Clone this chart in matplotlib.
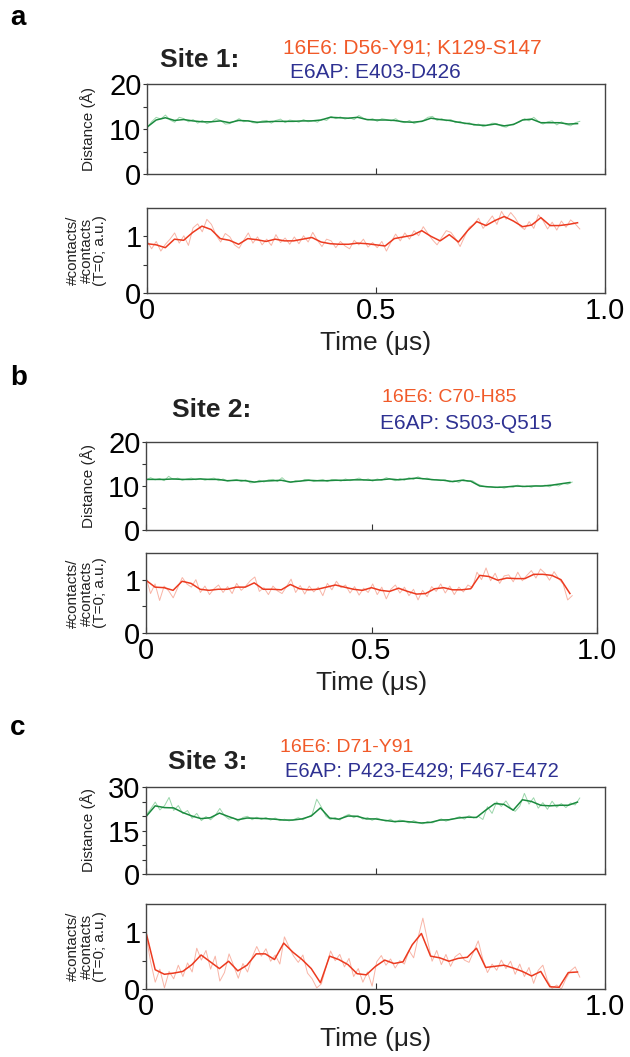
import matplotlib
matplotlib.use("Agg")
import matplotlib.pyplot as plt
import numpy as np

plt.rcParams['font.family'] = ['Liberation Sans', 'DejaVu Sans']

# smoothed traces, sampled every 0.02 us from 0 to 0.94 us
dist1 = [10.4, 12.0, 12.5, 11.9, 12.1, 11.8, 11.6, 11.6, 11.8, 11.4, 11.9, 11.8, 11.5, 11.6, 11.7, 11.7,
         11.7, 11.8, 11.8, 12.0, 12.6, 12.5, 12.4, 12.6, 12.1, 12.0, 12.0, 11.9, 11.6, 11.5, 11.7, 12.4,
         12.1, 11.9, 11.5, 11.2, 10.9, 10.8, 11.1, 10.7, 11.0, 12.0, 12.2, 11.4, 11.4, 11.4, 11.1, 11.2]
cont1 = [0.87, 0.85, 0.80, 0.95, 0.93, 1.07, 1.18, 1.12, 0.96, 0.93, 0.86, 0.96, 0.94, 0.91, 0.95, 0.92,
         0.92, 0.95, 0.98, 0.90, 0.87, 0.86, 0.86, 0.88, 0.87, 0.85, 0.83, 0.96, 0.99, 1.02, 1.10, 1.00,
         0.92, 1.03, 0.90, 1.10, 1.26, 1.19, 1.28, 1.35, 1.27, 1.17, 1.20, 1.33, 1.19, 1.19, 1.21, 1.24]
dist2 = [11.5, 11.5, 11.5, 11.6, 11.5, 11.5, 11.6, 11.5, 11.5, 11.2, 11.3, 11.2, 10.9, 11.1, 11.2, 11.3,
         10.9, 11.1, 11.3, 11.2, 11.2, 11.3, 11.3, 11.4, 11.4, 11.3, 11.4, 11.6, 11.4, 11.6, 11.8, 11.6,
         11.4, 11.3, 11.0, 11.3, 11.1, 10.0, 9.8, 9.7, 9.8, 10.0, 9.9, 10.0, 10.0, 10.2, 10.5, 10.8]
cont2 = [0.99, 0.86, 0.85, 0.80, 0.97, 0.93, 0.82, 0.80, 0.82, 0.82, 0.86, 0.86, 0.94, 0.82, 0.82, 0.81,
         0.91, 0.83, 0.81, 0.82, 0.86, 0.90, 0.86, 0.82, 0.80, 0.85, 0.80, 0.78, 0.84, 0.78, 0.73, 0.74,
         0.83, 0.85, 0.81, 0.81, 0.83, 1.08, 1.06, 0.99, 1.03, 1.02, 1.02, 1.10, 1.10, 1.08, 1.00, 0.74]
dist3 = [19.8, 23.5, 22.9, 22.8, 21.2, 20.0, 19.1, 19.4, 21.0, 19.8, 18.7, 19.3, 19.2, 19.1, 18.9, 18.6,
         18.6, 19.0, 20.0, 22.8, 19.3, 18.9, 20.0, 19.9, 19.0, 19.0, 18.5, 18.1, 18.2, 17.9, 17.6, 17.8,
         18.6, 18.7, 19.3, 19.6, 19.5, 22.0, 24.3, 24.0, 22.0, 25.6, 25.0, 23.7, 23.5, 23.7, 23.7, 24.8]
cont3 = [1.00, 0.34, 0.26, 0.28, 0.31, 0.43, 0.60, 0.48, 0.36, 0.49, 0.32, 0.42, 0.62, 0.62, 0.52, 0.81,
         0.65, 0.52, 0.36, 0.11, 0.58, 0.52, 0.43, 0.27, 0.25, 0.40, 0.51, 0.45, 0.48, 0.78, 0.98, 0.58,
         0.55, 0.49, 0.54, 0.56, 0.72, 0.38, 0.40, 0.42, 0.37, 0.31, 0.23, 0.31, 0.04, 0.03, 0.29, 0.30]

# raw traces, sampled every 0.01 us from 0 to 0.94 us
dist1_raw = [10.2, 11.6, 12.6, 12.2, 13.1, 12.0, 11.5, 12.6, 12.3, 11.6,
             12.1, 11.3, 11.9, 11.2, 11.6, 12.3, 11.9, 11.1, 11.2, 11.7,
             12.3, 11.6, 11.9, 11.4, 11.3, 11.8, 11.9, 11.3, 11.9, 12.2,
             11.4, 12.0, 11.8, 11.5, 12.1, 11.6, 11.9, 11.5, 12.2, 11.9,
             12.8, 12.3, 12.7, 12.2, 12.5, 12.1, 13.0, 12.4, 12.0, 12.3,
             11.7, 12.3, 12.1, 11.8, 12.3, 11.6, 11.4, 11.9, 11.2, 11.6,
             11.9, 12.6, 12.8, 11.9, 12.3, 11.8, 12.1, 11.4, 11.7, 11.1,
             11.4, 10.8, 11.1, 10.5, 10.9, 11.3, 11.2, 10.6, 10.4, 11.0,
             11.2, 11.6, 12.3, 11.8, 12.6, 11.7, 11.1, 11.6, 11.8, 10.9,
             11.6, 11.0, 10.7, 11.4, 11.7]
cont1_raw = [0.92, 0.78, 0.91, 0.74, 0.86, 0.95, 1.06, 0.88, 1.01, 0.84,
             1.15, 1.22, 1.08, 1.30, 1.21, 1.02, 0.90, 1.05, 0.99, 0.85,
             0.79, 0.93, 1.06, 0.88, 0.99, 0.85, 0.95, 0.84, 1.03, 0.89,
             0.97, 0.86, 0.99, 0.87, 1.01, 0.90, 1.07, 0.93, 0.82, 0.95,
             0.92, 0.80, 0.91, 0.83, 0.78, 0.93, 0.85, 0.95, 0.81, 0.89,
             0.80, 0.91, 0.74, 0.90, 1.04, 0.92, 1.06, 0.95, 1.10, 1.01,
             1.17, 1.05, 0.94, 0.85, 0.98, 1.10, 1.07, 0.96, 0.82, 1.00,
             1.16, 1.21, 1.32, 1.14, 1.25, 1.36, 1.21, 1.44, 1.30, 1.42,
             1.32, 1.18, 1.12, 1.26, 1.14, 1.38, 1.28, 1.13, 1.25, 1.11,
             1.27, 1.16, 1.29, 1.22, 1.13]
dist2_raw = [11.3, 11.9, 11.4, 11.7, 11.2, 12.2, 11.5, 11.8, 11.3, 11.6,
             11.8, 11.4, 11.7, 11.3, 11.6, 11.8, 11.2, 11.6, 11.1, 11.3,
             11.5, 11.0, 11.4, 10.7, 10.8, 11.3, 10.9, 11.4, 11.5, 11.0,
             11.9, 11.0, 10.8, 11.2, 11.0, 11.5, 11.4, 11.0, 11.3, 11.5,
             11.0, 11.5, 11.4, 11.1, 11.6, 11.2, 11.5, 11.8, 11.3, 11.6,
             11.1, 11.6, 11.3, 11.9, 11.5, 11.2, 11.7, 11.3, 11.9, 11.5,
             12.1, 11.6, 11.8, 11.4, 11.5, 11.2, 11.4, 10.9, 11.2, 10.8,
             11.5, 11.0, 11.2, 10.5, 10.1, 9.8, 9.9, 9.6, 9.8, 9.5,
             9.9, 9.7, 10.2, 9.8, 10.0, 9.7, 10.1, 9.9, 10.2, 9.8,
             10.3, 10.0, 10.6, 10.4, 10.9]
cont2_raw = [1.05, 0.74, 0.92, 0.61, 0.88, 0.79, 0.66, 0.85, 1.04, 0.92,
             0.86, 1.00, 0.76, 0.88, 0.72, 0.83, 0.90, 0.76, 0.87, 0.74,
             0.93, 0.80, 0.88, 0.98, 1.05, 0.78, 0.85, 0.72, 0.88, 0.79,
             0.74, 0.87, 1.01, 0.76, 0.89, 0.73, 0.88, 0.77, 0.86, 0.70,
             0.93, 0.81, 0.97, 0.85, 0.90, 0.75, 0.87, 0.71, 0.84, 0.76,
             0.92, 0.72, 0.86, 0.64, 0.82, 0.90, 0.75, 0.86, 0.70, 0.82,
             0.62, 0.80, 0.68, 0.87, 0.78, 0.92, 0.75, 0.88, 0.72, 0.86,
             0.77, 0.90, 0.85, 1.14, 1.00, 1.22, 0.98, 1.12, 0.93, 1.07,
             1.09, 0.96, 1.14, 0.98, 1.08, 1.17, 1.03, 1.20, 1.12, 0.99,
             1.15, 1.02, 0.92, 0.62, 0.70]
dist3_raw = [20.3, 22.4, 24.8, 22.1, 23.5, 26.4, 21.9, 23.6, 20.8, 21.9,
             19.2, 20.9, 18.4, 19.8, 18.7, 20.2, 22.6, 20.1, 18.9, 19.3,
             18.2, 19.5, 19.9, 18.7, 19.6, 18.8, 19.5, 18.6, 19.3, 18.4,
             18.9, 18.3, 18.8, 19.4, 18.7, 19.6, 20.5, 25.8, 23.1, 19.9,
             18.8, 19.5, 18.6, 19.9, 20.6, 19.4, 20.1, 18.9, 19.5, 18.5,
             19.3, 18.7, 18.2, 18.9, 17.8, 18.6, 18.3, 17.6, 18.4, 17.7,
             17.3, 18.1, 17.6, 18.3, 19.0, 18.2, 18.9, 19.2, 19.8, 18.9,
             20.1, 19.3, 19.9, 18.8, 23.2, 20.9, 24.9, 23.3, 25.2, 22.8,
             21.6, 23.4, 27.8, 24.1, 26.3, 22.7, 24.6, 22.3, 25.1, 23.0,
             24.3, 22.9, 24.5, 23.8, 26.2]
cont3_raw = [0.95, 0.48, 0.12, 0.35, 0.02, 0.31, 0.18, 0.42, 0.22, 0.46,
             0.30, 0.72, 0.51, 0.68, 0.35, 0.58, 0.14, 0.29, 0.62, 0.41,
             0.19, 0.45, 0.30, 0.56, 0.75, 0.58, 0.71, 0.49, 0.60, 0.44,
             0.92, 0.74, 0.58, 0.47, 0.60, 0.28, 0.18, 0.02, 0.09, 0.38,
             0.67, 0.50, 0.61, 0.39, 0.54, 0.22, 0.36, 0.12, 0.30, 0.05,
             0.48, 0.59, 0.42, 0.53, 0.37, 0.50, 0.44, 0.68, 0.55, 0.92,
             1.25, 0.86, 0.49, 0.68, 0.43, 0.61, 0.40, 0.57, 0.63, 0.51,
             0.47, 0.66, 0.85, 0.52, 0.29, 0.44, 0.33, 0.51, 0.36, 0.49,
             0.26, 0.44, 0.22, 0.38, 0.10, 0.33, 0.42, 0.15, 0.01, 0.07,
             0.00, 0.18, 0.32, 0.39, 0.21]

letters = ['a', 'b', 'c']
sites = ['Site 1:', 'Site 2:', 'Site 3:']
e6_labels = ['16E6: D56-Y91; K129-S147', '16E6: C70-H85', '16E6: D71-Y91']
e6ap_labels = ['E6AP: E403-D426', 'E6AP: S503-Q515', 'E6AP: P423-E429; F467-E472']

GREEN, GREEN_L = '#1a8a3e', '#9ad6aa'
RED, RED_L = '#ec3a1f', '#f8b4a6'
ORANGE, NAVY = '#f15a29', '#2e3192'

W, H = 630, 1057
fig = plt.figure(figsize=(W / 100, H / 100), dpi=100)


def box(l, t, r, b):
    return [l / W, 1 - b / H, (r - l) / W, (b - t) / H]


def style(ax, ymax, yticks, yminor):
    ax.set_xlim(0, 1.0)
    ax.set_ylim(0, ymax)
    ax.set_yticks(yticks)
    ax.set_yticks(yminor, minor=True)
    ax.set_xticks([0, 0.5, 1.0])
    ax.tick_params(axis='y', which='both', direction='out', length=3, width=0.8,
                   labelsize=21, pad=1, colors='#333333', labelcolor='black')
    ax.tick_params(axis='x', direction='in', length=4, width=0.8, labelsize=21,
                   pad=3, colors='#333333', labelcolor='black')
    for s in ax.spines.values():
        s.set_color('#444444')
        s.set_linewidth(1.0)


# pixel boxes: (left, top, right, bottom) for distance and contact axes
layout = [
    ((147, 84, 605, 174), (147, 208, 605, 293), 18, 48, 60),
    ((146, 442, 597, 530), (146, 553, 597, 633), 378, 398, 410),
    ((146, 787, 605, 874), (146, 904, 605, 989), 728, 748, 762),
]
dists = [dist1, dist2, dist3]
conts = [cont1, cont2, cont3]
dists_raw = [dist1_raw, dist2_raw, dist3_raw]
conts_raw = [cont1_raw, cont2_raw, cont3_raw]
dmax = [20, 20, 30]
e6_x = [283, 382, 280]
e6ap_x = [290, 380, 285]
site_x = [200, 212, 208]
e6ap_dy = [24, 26, 23]
e6_size = [15, 14, 14]
e6ap_size = [15, 15, 14.5]

for i in range(3):
    dbox, cbox, ly, ty, sy = layout[i]
    width = dbox[2] - dbox[0]

    axd = fig.add_axes(box(*dbox))
    t_raw = np.linspace(0, 0.945, len(dists_raw[i]))
    t_s = np.linspace(0, 0.94, len(dists[i]))
    axd.plot(t_raw, dists_raw[i], color=GREEN_L, lw=0.7)
    axd.plot(t_s, dists[i], color=GREEN, lw=1.1)
    if dmax[i] == 20:
        style(axd, 20, [0, 10, 20], [5, 15])
    else:
        style(axd, 30, [0, 15, 30], [5, 10, 20, 25])
    axd.set_xticklabels([])
    axd.set_ylabel('Distance (Å)', fontsize=11, color='#222222')
    axd.yaxis.set_label_coords((96 - dbox[0]) / width, 0.5)

    axc = fig.add_axes(box(*cbox))
    t_raw = np.linspace(0, 0.945, len(conts_raw[i]))
    t_s = np.linspace(0, 0.94, len(conts[i]))
    axc.plot(t_raw, conts_raw[i], color=RED_L, lw=0.7)
    axc.plot(t_s, conts[i], color=RED, lw=1.1)
    style(axc, 1.5, [0, 1], [0.5])
    axc.set_xticklabels(['0', '0.5', '1.0'])
    axc.set_yticklabels(['0', '1'])
    axc.set_ylabel('#contacts/\n#contacts\n(T=0; a.u.)', fontsize=11,
                   linespacing=0.95, color='#222222')
    axc.yaxis.set_label_coords((107 - cbox[0]) / width, 0.5)
    axc.set_xlabel('Time (μs)', fontsize=19, labelpad=4, color='#222222')

    fig.text(10 / W, 1 - ly / H, letters[i], fontsize=20, fontweight='bold',
             va='center', ha='left')
    fig.text(site_x[i] / W, 1 - sy / H, sites[i], fontsize=19, fontweight='bold',
             va='center', ha='center', color='#222222')
    fig.text(e6_x[i] / W, 1 - ty / H, e6_labels[i], fontsize=e6_size[i], color=ORANGE,
             va='center', ha='left')
    fig.text(e6ap_x[i] / W, 1 - (ty + e6ap_dy[i]) / H, e6ap_labels[i], fontsize=e6ap_size[i],
             color=NAVY, va='center', ha='left')

fig.savefig('out.png', dpi=100)
